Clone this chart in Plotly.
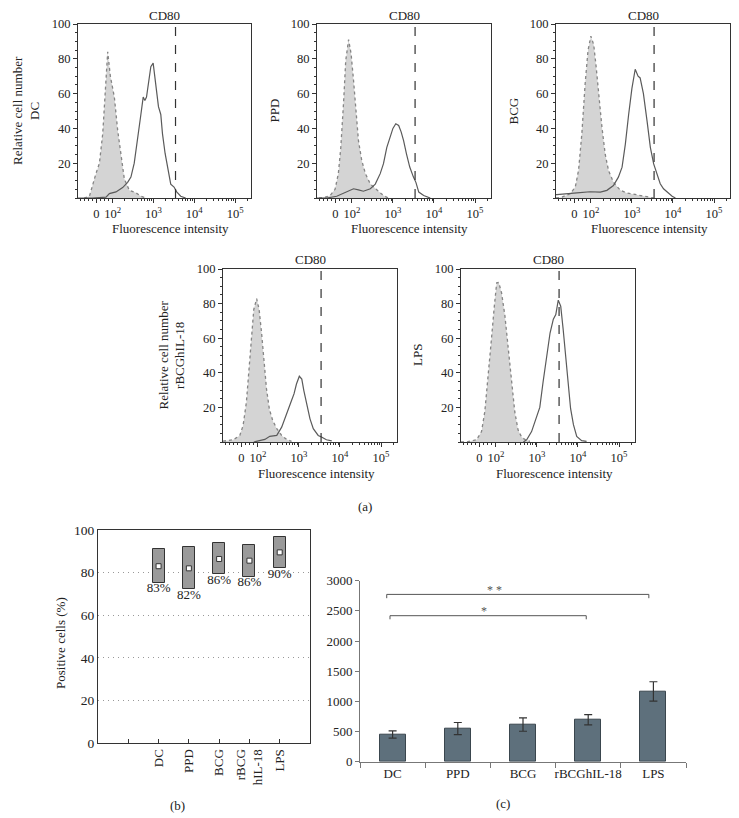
import plotly.graph_objects as go
import numpy as np

FONT = "Liberation Serif, Times New Roman, serif"

# ---------------- (a) flow cytometry histograms (x = log10 display units) ----------------
dc_ctrl_x = [1.30, 1.43, 1.59, 1.675, 1.756, 1.821, 1.878, 1.943, 2.0, 2.041, 2.122, 2.203, 2.285, 2.407, 2.569, 2.691, 2.813]
dc_ctrl_y = [0, 1, 14, 20, 37, 60, 84, 70, 63, 58, 39, 24, 11, 4.5, 3, 1, 0]
dc_samp_x = [1.15, 1.50, 1.837, 1.919, 2.081, 2.244, 2.366, 2.447, 2.528, 2.61, 2.691, 2.748, 2.789, 2.829, 2.878, 2.935, 2.992,
             3.057, 3.122, 3.179, 3.22, 3.285, 3.366, 3.423, 3.504, 3.569, 3.667, 3.789]
dc_samp_y = [0, 0, 0.5, 2.5, 3.5, 6, 9, 12, 20, 33, 48, 58, 56, 58, 66, 75.5, 77.5,
             64, 52.5, 48, 37, 25.6, 14, 8, 6.3, 3.5, 1, 0]

ppd_ctrl_x = [1.20, 1.35, 1.47, 1.59, 1.67, 1.73, 1.80, 1.85, 1.92, 1.98, 2.04, 2.11, 2.16, 2.24, 2.33, 2.45, 2.61, 2.77, 2.89]
ppd_ctrl_y = [0, 0.5, 1.4, 5, 14, 29, 56, 79, 91, 83, 67.7, 48.5, 33, 21.6, 14, 8, 4.7, 1.4, 0]
ppd_samp_x = [1.15, 1.39, 1.63, 1.88, 2.04, 2.16, 2.28, 2.45, 2.57, 2.69, 2.77, 2.85, 2.93, 3.0, 3.07, 3.14, 3.2,
              3.26, 3.33, 3.41, 3.5, 3.56, 3.63, 3.75, 3.91]
ppd_samp_y = [0, 0, 1, 3.4, 5.3, 4.7, 3.9, 5.3, 8, 14, 19.7, 29, 35, 40, 42.7, 41.7, 38,
              33, 25.4, 17.8, 12, 9, 3.4, 1.4, 0]

bcg_ctrl_x = [1.15, 1.29, 1.5, 1.62, 1.7, 1.78, 1.86, 1.93, 2.0, 2.07, 2.13, 2.19, 2.27, 2.35, 2.43, 2.55, 2.72, 2.88,
              3.12, 3.37, 3.53]
bcg_ctrl_y = [0, 0.5, 2.5, 6.3, 16, 37, 65.7, 84.8, 93, 88, 75, 60, 40.6, 25, 15.8, 9, 4.4, 2.9, 1.9, 1, 0]
bcg_samp_x = [1.15, 1.17, 1.66, 1.98, 2.23, 2.39, 2.55, 2.67, 2.76, 2.84, 2.92, 3.0, 3.08, 3.15, 3.2, 3.28, 3.37,
              3.45, 3.53, 3.61, 3.69, 3.77, 3.89, 3.98, 4.06]
bcg_samp_y = [1.9, 1.9, 2.9, 3.6, 3.4, 4.4, 7.2, 12, 17.7, 31, 48, 63, 74, 70, 69, 60, 44,
              29, 19.6, 14, 8.2, 5.3, 2.5, 1, 0]

ril_ctrl_x = [1.15, 1.4, 1.56, 1.64, 1.72, 1.79, 1.85, 1.9, 1.97, 2.03, 2.09, 2.15, 2.21, 2.28, 2.36, 2.46, 2.58, 2.7, 2.82]
ril_ctrl_y = [0.5, 1.3, 3.8, 9.6, 23, 42, 61, 76.6, 82.8, 76.6, 63, 46, 30.7, 19, 12.5, 7.7, 3.8, 1.5, 0.4]
ril_samp_x = [1.9, 2.05, 2.17, 2.29, 2.46, 2.58, 2.66, 2.74, 2.82, 2.88, 2.94, 3.01, 3.07, 3.12, 3.19, 3.27, 3.35,
              3.47, 3.55, 3.67, 3.8]
ril_samp_y = [0, 0.6, 1.5, 3.3, 3.8, 8.6, 13.4, 19, 24, 27.8, 33.5, 38, 36.4, 29.7, 22, 13.4, 7.7,
              3.8, 2.9, 1.3, 0.6]

lps_ctrl_x = [1.15, 1.28, 1.53, 1.65, 1.73, 1.81, 1.89, 1.96, 2.02, 2.07, 2.14, 2.22, 2.3, 2.38, 2.46, 2.54, 2.63, 2.73, 2.83]
lps_ctrl_y = [0, 0, 1.3, 6, 17.5, 36.6, 59, 78, 92, 92.2, 86, 73, 53.7, 34.7, 17.5, 7, 2.7, 1.1, 0.4]
lps_samp_x = [2.67, 2.75, 2.87, 2.99, 3.07, 3.15, 3.24, 3.32, 3.4, 3.46, 3.52, 3.58, 3.64, 3.7, 3.76, 3.82, 3.89,
              3.97, 4.09, 4.21]
lps_samp_y = [0, 1.3, 6, 13.7, 20, 34.7, 50, 63, 71, 73.7, 82, 78.5, 65, 50, 32.8, 19.4, 10,
              3.2, 0.8, 0.4]

hist_groups = ["DC", "PPD", "BCG", "rBCGhIL-18", "LPS"]
hist_marker = "CD80"
gate_log = 3.54  # dashed positivity gate (log10 units)

x_tick_vals = [1.6, 2, 3, 4, 5]
x_tick_text = ["0", "10<sup>2</sup>", "10<sup>3</sup>", "10<sup>4</sup>", "10<sup>5</sup>"]

# ---------------- (b) percentage of positive cells ----------------
b_groups = ["DC", "PPD", "BCG", "rBCG<br>hIL-18", "LPS"]
b_low = [75.3, 72.2, 79.2, 78.1, 82.0]
b_high = [90.9, 92.2, 93.7, 93.0, 96.9]
b_mid = [83.0, 82.0, 86.4, 85.6, 89.5]
b_labels = ["83%", "82%", "86%", "86%", "90%"]

# ---------------- (c) MFI bars ----------------
c_groups = ["DC", "PPD", "BCG", "rBCGhIL-18", "LPS"]
c_mean = [450, 550, 615, 695, 1165]
c_err = [60, 100, 110, 85, 160]

fig = go.Figure()

hist_data = [
    (dc_ctrl_x, dc_ctrl_y, dc_samp_x, dc_samp_y),
    (ppd_ctrl_x, ppd_ctrl_y, ppd_samp_x, ppd_samp_y),
    (bcg_ctrl_x, bcg_ctrl_y, bcg_samp_x, bcg_samp_y),
    (ril_ctrl_x, ril_ctrl_y, ril_samp_x, ril_samp_y),
    (lps_ctrl_x, lps_ctrl_y, lps_samp_x, lps_samp_y),
]

W, H = 739, 818
OFF = 8  # page body margin offset
hx = [(78, 251), (317, 491), (556, 730), (223, 397), (461, 635)]
hy = [(24, 198), (24, 198), (24, 198), (269, 442), (269, 442)]


def px(x):
    return (x - OFF) / W


def py(y):
    return 1 - (y - OFF) / H


minor_vals = [1.2, 1.3, 1.4, 1.5, 1.7, 1.8, 1.9]
for n in (2, 3, 4):
    for k in range(2, 10):
        minor_vals.append(n + np.log10(k))
minor_vals += [5 + np.log10(2), 5 + np.log10(3)]

axis_font = dict(family=FONT, size=12.5, color="#222")
txt_font = dict(family=FONT, size=13, color="#222")


def note(x, y, text, **kw):
    fig.add_annotation(x=px(x), y=py(y), xref="paper", yref="paper", text=text, showarrow=False,
                       xanchor=kw.pop("xanchor", "center"), yanchor=kw.pop("yanchor", "middle"),
                       font=kw.pop("font", txt_font), **kw)


for i, (cx, cy, sx, sy) in enumerate(hist_data):
    n = i + 1
    xa = "x" if n == 1 else f"x{n}"
    ya = "y" if n == 1 else f"y{n}"
    fig.add_trace(go.Scatter(x=cx, y=cy, xaxis=xa, yaxis=ya, mode="lines", fill="tozeroy",
                             fillcolor="#d4d4d4", line=dict(color="#858585", width=1.3, dash="dot"),
                             showlegend=False, hoverinfo="skip"))
    fig.add_trace(go.Scatter(x=sx, y=sy, xaxis=xa, yaxis=ya, mode="lines",
                             line=dict(color="#5a5a5a", width=1.2),
                             showlegend=False, hoverinfo="skip"))
    x0, x1 = hx[i]
    y0, y1 = hy[i]
    xkey = "xaxis" if n == 1 else f"xaxis{n}"
    ykey = "yaxis" if n == 1 else f"yaxis{n}"
    fig.layout[xkey] = dict(domain=[px(x0), px(x1)], anchor=ya, range=[1.15, 5.39], automargin=False,
                            tickmode="array", tickvals=x_tick_vals, ticktext=x_tick_text,
                            ticks="outside", ticklen=4, tickcolor="#333",
                            minor=dict(tickmode="array", tickvals=minor_vals, ticks="outside", ticklen=2, tickcolor="#333"),
                            showline=True, mirror=True, linecolor="#333", linewidth=1,
                            showgrid=False, zeroline=False, tickfont=axis_font)
    fig.layout[ykey] = dict(domain=[py(y1), py(y0)], anchor=xa, range=[0, 100], automargin=False,
                            tickvals=[20, 40, 60, 80, 100], ticks="outside", ticklen=4, tickcolor="#333",
                            minor=dict(dtick=5, ticks="outside", ticklen=2, tickcolor="#333"),
                            showline=True, mirror=True, linecolor="#333", linewidth=1,
                            showgrid=False, zeroline=False, tickfont=axis_font)
    fig.add_shape(type="line", xref=xa, yref=f"{ya} domain", x0=gate_log, x1=gate_log, y0=0, y1=1,
                  line=dict(color="#333", width=1.2, dash="dash"))
    note((x0 + x1) / 2, y0 - 9, hist_marker)
    note((x0 + x1) / 2 + 6, y1 + 31, "Fluorescence intensity")
    ytxt = hist_groups[i]
    if n in (1, 4):
        ytxt = "Relative cell number<br>" + ytxt
    note(x0 - 34, (y0 + y1) / 2, ytxt, xanchor="right", textangle=-90)

note(365, 506, "(a)")

# ---------------- panel (b) ----------------
b_x = [2, 3, 4, 5, 6]
fig.add_trace(go.Bar(x=b_x, y=[h - l for h, l in zip(b_high, b_low)], base=b_low, width=0.4,
                     marker=dict(color="#9a9a9a", line=dict(color="#333", width=1)),
                     xaxis="x6", yaxis="y6", showlegend=False, hoverinfo="skip"))
fig.add_trace(go.Scatter(x=b_x, y=b_mid, mode="markers", xaxis="x6", yaxis="y6",
                         marker=dict(symbol="square", size=5, color="white", line=dict(color="#333", width=1)),
                         showlegend=False, hoverinfo="skip"))
fig.add_trace(go.Scatter(x=b_x, y=b_low, mode="text", text=b_labels, textposition="bottom center",
                         textfont=dict(family=FONT, size=13, color="#222"),
                         xaxis="x6", yaxis="y6", showlegend=False, hoverinfo="skip"))
fig.layout["xaxis6"] = dict(domain=[px(98), px(310)], anchor="y6", range=[0, 7], automargin=False,
                            tickmode="array", tickvals=[1, 2, 3, 4, 5, 6], ticktext=[""] + b_groups,
                            tickangle=-90, ticks="inside", ticklen=4, tickcolor="#333",
                            showline=True, mirror=True, linecolor="#333", linewidth=1,
                            showgrid=False, zeroline=False, tickfont=dict(family=FONT, size=13, color="#222"))
fig.layout["yaxis6"] = dict(domain=[py(743), py(530)], anchor="x6", range=[0, 100], dtick=20, automargin=False,
                            showline=True, mirror=True, linecolor="#333", linewidth=1,
                            showgrid=True, gridcolor="#999", griddash="1px,4px", gridwidth=1,
                            zeroline=False, tickfont=dict(family=FONT, size=13.5, color="#222"))
note(60, 643, "Positive cells (%)", textangle=-90)
note(177, 805, "(b)")

# ---------------- panel (c) ----------------
fig.add_trace(go.Bar(x=c_groups, y=c_mean, width=0.4,
                     marker=dict(color="#5e707c", line=dict(color="#3a464e", width=1)),
                     error_y=dict(type="data", array=c_err, color="#333", thickness=1.2, width=4),
                     xaxis="x7", yaxis="y7", showlegend=False, hoverinfo="skip"))
fig.layout["xaxis7"] = dict(domain=[px(360), px(686)], anchor="y7", range=[-0.5, 4.5], type="category",
                            automargin=False, tickangle=0,
                            tickson="boundaries", ticks="outside", ticklen=5, tickcolor="#777",
                            showline=True, linecolor="#777", linewidth=1, showgrid=False,
                            tickfont=dict(family=FONT, size=13, color="#222"))
fig.layout["yaxis7"] = dict(domain=[py(761.7), py(580.7)], anchor="x7", range=[0, 3000], dtick=500,
                            automargin=False,
                            ticks="outside", ticklen=4, tickcolor="#777",
                            showline=True, linecolor="#777", linewidth=1, showgrid=False, zeroline=False,
                            tickfont=dict(family=FONT, size=13, color="#222"))

sig_pairs = [(-0.09, 3.93, 2773, 2710, "* *", 1.57, 2850), (-0.04, 2.97, 2420, 2360, "*", 1.40, 2500)]
for xa0, xa1, yt, yb, lab, tx, ty in sig_pairs:
    fig.add_shape(type="path", xref="x7", yref="y7",
                  path=f"M {xa0},{yb} L {xa0},{yt} L {xa1},{yt} L {xa1},{yb}",
                  line=dict(color="#555", width=1))
    fig.add_annotation(x=tx, y=ty, xref="x7", yref="y7", text=lab, showarrow=False,
                       xanchor="center", yanchor="middle",
                       font=dict(family=FONT, size=12, color="#555"))
note(503, 803, "(c)")

fig.update_layout(width=W, height=H, autosize=False, margin=dict(l=0, r=0, t=0, b=0, pad=0),
                  paper_bgcolor="white", plot_bgcolor="white", bargap=0, showlegend=False,
                  font=dict(family=FONT, color="#222"))

fig.write_html("out.html")
